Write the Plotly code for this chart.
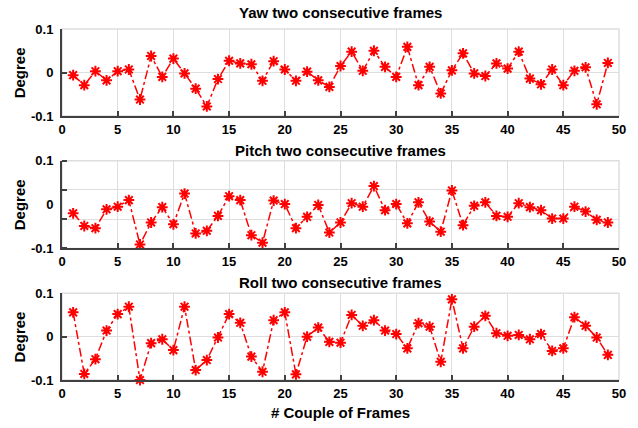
import plotly.graph_objects as go

# Frame-pair index and per-axis angle differences (degrees)
frames = list(range(1, 50))

yaw = [-0.006, -0.029, 0.003, -0.018, 0.003, 0.007, -0.062, 0.038, -0.010, 0.032,
       -0.002, -0.037, -0.078, -0.015, 0.027, 0.021, 0.019, -0.019, 0.026, 0.007,
       -0.019, 0.002, -0.018, -0.033, 0.015, 0.048, 0.004, 0.050, 0.013, -0.010,
       0.059, -0.029, 0.013, -0.048, 0.005, 0.044, -0.002, -0.008, 0.021, 0.009,
       0.048, -0.014, -0.027, 0.007, -0.029, 0.004, 0.012, -0.073, 0.022]

pitch = [-0.020, -0.049, -0.054, -0.011, -0.005, 0.010, -0.091, -0.041, -0.006, -0.045,
         0.025, -0.066, -0.060, -0.026, 0.019, 0.010, -0.070, -0.087, 0.009, 0.001,
         -0.054, -0.028, -0.001, -0.064, -0.041, 0.003, -0.005, 0.042, -0.013, 0.001,
         -0.043, 0.005, -0.039, -0.062, 0.032, -0.047, -0.003, 0.005, -0.026, -0.028,
         0.003, -0.006, -0.013, -0.032, -0.032, -0.005, -0.016, -0.035, -0.041]

roll = [0.056, -0.086, -0.052, 0.014, 0.052, 0.069, -0.100, -0.015, -0.006, -0.031,
        0.069, -0.077, -0.054, -0.002, 0.052, 0.032, -0.046, -0.081, 0.038, 0.056,
        -0.087, 0.000, 0.021, -0.012, -0.014, 0.050, 0.025, 0.038, 0.014, 0.006,
        -0.027, 0.031, 0.023, -0.058, 0.086, -0.027, 0.023, 0.048, 0.008, 0.002,
        0.004, -0.006, 0.006, -0.033, -0.027, 0.045, 0.025, -0.002, -0.042]

titles = ["Yaw two consecutive frames", "Pitch two consecutive frames",
          "Roll two consecutive frames"]
x_ticks = [0, 5, 10, 15, 20, 25, 30, 35, 40, 45, 50]
y_tick_text = ["-0.1", "0", "0.1"]

FONT = "Liberation Sans, Arial, sans-serif"
GRID = "#dedede"
AXIS = "#404040"

series = [yaw, pitch, roll]
domains = [(0.752, 1.0), (0.375, 0.625), (0.0, 0.247)]
title_y = [1.046, 0.655, 0.279]

fig = go.Figure()
for i, vals in enumerate(series):
    n = i + 1
    fig.add_trace(go.Scatter(
        x=frames, y=vals, mode="lines+markers",
        xaxis="x" if n == 1 else f"x{n}", yaxis="y" if n == 1 else f"y{n}",
        line=dict(color="#ff0000", width=1.5, dash="dashdot"),
        marker=dict(symbol="asterisk-open", size=9, color="#ff0000",
                    line=dict(color="#ff0000", width=2)),
        showlegend=False, cliponaxis=False,
    ))

layout = dict(
    width=638, height=428,
    margin=dict(l=62, r=16, t=29, b=48),
    paper_bgcolor="white", plot_bgcolor="white",
    font=dict(family=FONT, color="black"),
    annotations=[], shapes=[],
)

for i in range(3):
    n = i + 1
    xk = "xaxis" if n == 1 else f"xaxis{n}"
    yk = "yaxis" if n == 1 else f"yaxis{n}"
    xr = "x" if n == 1 else f"x{n}"
    yr = "y" if n == 1 else f"y{n}"
    layout[xk] = dict(
        domain=[0, 1], anchor=yr, range=[0, 50],
        tickvals=x_ticks, ticktext=[str(v) for v in x_ticks],
        ticks="inside", ticklen=5, tickwidth=1.5, tickcolor=AXIS,
        showline=True, linecolor=AXIS, linewidth=2,
        showgrid=True, gridcolor=GRID, gridwidth=1, zeroline=False,
        tickfont=dict(size=13, weight="bold", color="black"),
    )
    yax = dict(
        domain=list(domains[i]), anchor=xr, range=[-0.1, 0.1],
        tickvals=[-0.1, 0, 0.1], ticktext=y_tick_text,
        showline=True, linecolor=AXIS, linewidth=2, zeroline=False,
        tickfont=dict(size=13, weight="bold", color="black"),
        ticklabelstandoff=4,
    )
    if n == 2:
        # Grid lines of this panel sit at thirds of the range
        yax.update(ticks="", showgrid=False,
                   minor=dict(tickvals=[-0.1, -1 / 30, 1 / 30, 0.1],
                              ticks="inside", ticklen=5, tickwidth=1.5,
                              tickcolor=AXIS, showgrid=True,
                              gridcolor=GRID, gridwidth=1))
    else:
        yax.update(ticks="inside", ticklen=5, tickwidth=1.5, tickcolor=AXIS,
                   showgrid=True, gridcolor=GRID, gridwidth=1)
    layout[yk] = yax

    # light frame on the top and right sides
    layout["shapes"].append(dict(
        type="rect", xref=f"{xr} domain", yref=f"{yr} domain",
        x0=0, x1=1, y0=0, y1=1, line=dict(color=GRID, width=1.5),
        layer="below"))

    layout["annotations"].append(dict(
        text=titles[i], xref="paper", yref="paper", x=0.5, y=title_y[i],
        xanchor="center", yanchor="middle", showarrow=False,
        font=dict(size=15, weight="bold", color="black")))
    layout["annotations"].append(dict(
        text="Degree", xref="paper", yref="paper",
        x=-0.0758, y=(domains[i][0] + domains[i][1]) / 2,
        xanchor="center", yanchor="middle", textangle=-90, showarrow=False,
        font=dict(size=15, weight="bold", color="black")))

layout["annotations"].append(dict(
    text="# Couple of Frames", xref="paper", yref="paper", x=0.5, y=-0.094,
    xanchor="center", yanchor="middle", showarrow=False,
    font=dict(size=15, weight="bold", color="black")))

fig.update_layout(**layout)
fig.write_html("out.html")
